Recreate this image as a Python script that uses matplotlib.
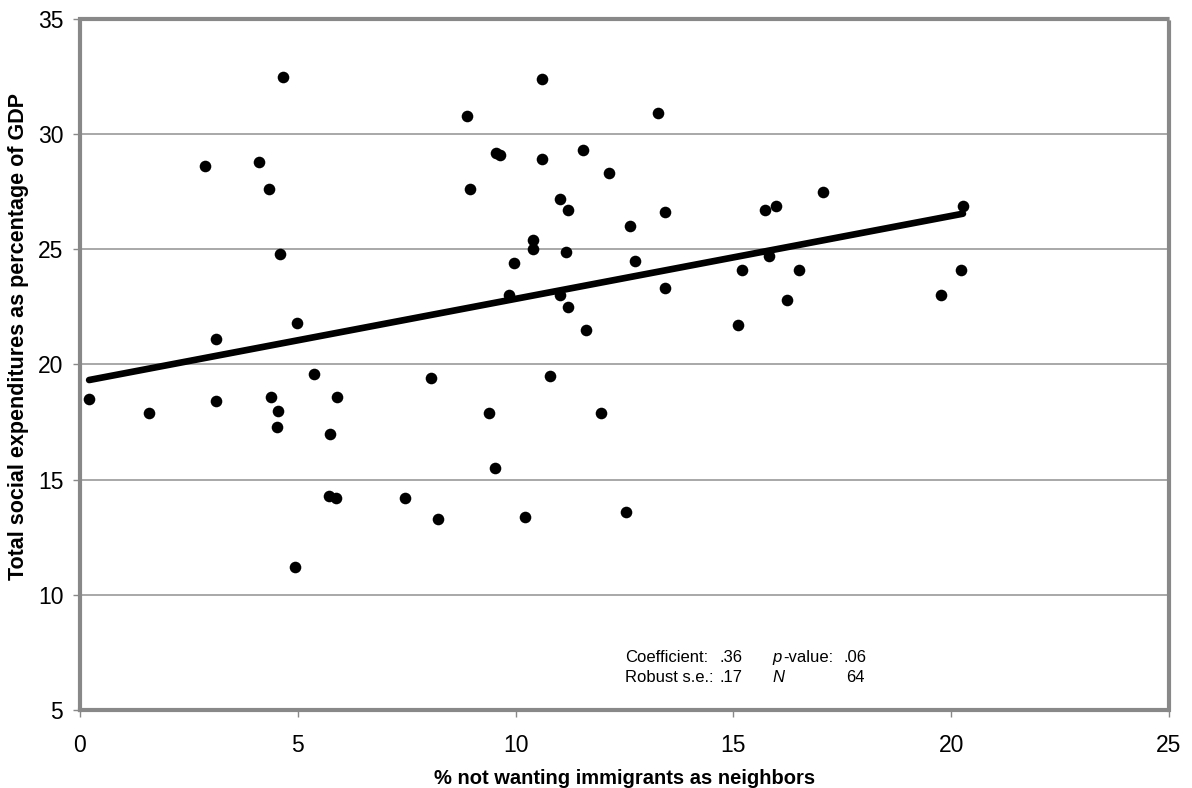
import numpy as np
import matplotlib
matplotlib.use("Agg")
import matplotlib.pyplot as plt

plt.rcParams['font.family'] = ['Liberation Sans', 'DejaVu Sans']

# share not wanting immigrants as neighbours vs. social spending (% of GDP)
pct_not_wanting = [0.21, 1.58, 2.87, 3.13, 3.13, 4.10, 4.33, 4.38, 4.52, 4.54,
                   4.59, 4.66, 4.93, 4.99, 5.38, 5.72, 5.74, 5.87, 5.90, 7.46,
                   8.05, 8.22, 8.89, 8.95, 9.40, 9.53, 9.55, 9.64, 9.84, 9.97,
                   10.22, 10.40, 10.40, 10.60, 10.60, 10.78, 11.01, 11.01, 11.16, 11.20,
                   11.20, 11.55, 11.62, 11.95, 12.14, 12.53, 12.63, 12.73, 13.27, 13.43,
                   13.43, 15.10, 15.19, 15.72, 15.81, 15.97, 16.22, 16.50, 17.06, 19.77,
                   20.22, 20.27]
social_exp = [18.5, 17.9, 28.6, 21.1, 18.4, 28.8, 27.6, 18.6, 17.3, 18.0,
              24.8, 32.5, 11.2, 21.8, 19.6, 14.3, 17.0, 14.2, 18.6, 14.2,
              19.4, 13.3, 30.8, 27.6, 17.9, 15.5, 29.2, 29.1, 23.0, 24.4,
              13.4, 25.4, 25.0, 32.4, 28.9, 19.5, 27.2, 23.0, 24.9, 26.7,
              22.5, 29.3, 21.5, 17.9, 28.3, 13.6, 26.0, 24.5, 30.9, 26.6,
              23.3, 21.7, 24.1, 26.7, 24.7, 26.9, 22.8, 24.1, 27.5, 23.0,
              24.1, 26.9]

# regression results
coef = 0.36
intercept = 19.25
x_ticks = [0, 5, 10, 15, 20, 25]
y_ticks = [5, 10, 15, 20, 25, 30, 35]

fig = plt.figure(figsize=(11.92, 7.88), dpi=100)
ax = fig.add_axes([0.0671, 0.099, 0.9136, 0.8769])

for y in y_ticks[1:-1]:
    ax.axhline(y, color='#9a9a9a', linewidth=1.2, zorder=1)

ax.scatter(pct_not_wanting, social_exp, s=70, color='black', zorder=3, linewidths=0)

x_fit = np.array([min(pct_not_wanting), max(pct_not_wanting)])
ax.plot(x_fit, intercept + coef * x_fit, color='black', linewidth=4.8,
        solid_capstyle='round', zorder=4)

ax.set_xlim(0, 25)
ax.set_ylim(5, 35)
ax.set_xticks(x_ticks)
ax.set_yticks(y_ticks)
ax.tick_params(axis='both', labelsize=16.5, color='#888888', length=5, width=1,
               direction='out')
ax.tick_params(axis='x', pad=12)
ax.tick_params(axis='y', pad=7)

for side in ['left', 'right', 'top', 'bottom']:
    ax.spines[side].set_color('#888888')
    ax.spines[side].set_linewidth(3)
    ax.spines[side].set_linestyle((0, (1, 1)))

ax.set_xlabel('% not wanting immigrants as neighbors', fontsize=14.5, fontweight='bold', labelpad=9)
ax.set_ylabel('Total social expenditures as percentage of GDP', fontsize=15.5, fontweight='bold')
ax.yaxis.set_label_coords(-0.047, 0.54)

# regression stats box
fs = 12
row1, row2 = 7.10, 6.23
ax.text(12.51, row1, 'Coefficient:', fontsize=fs, va='baseline')
ax.text(14.69, row1, '.36', fontsize=fs, va='baseline')
ax.text(15.89, row1, 'p', fontsize=fs, style='italic', va='baseline')
ax.text(16.15, row1, '-value:', fontsize=fs, va='baseline')
ax.text(17.52, row1, '.06', fontsize=fs, va='baseline')
ax.text(12.51, row2, 'Robust s.e.:', fontsize=fs, va='baseline')
ax.text(14.69, row2, '.17', fontsize=fs, va='baseline')
ax.text(15.89, row2, 'N', fontsize=fs, style='italic', va='baseline')
ax.text(18.02, row2, '64', fontsize=fs, va='baseline', ha='right')

fig.savefig('out.png', dpi=100)
